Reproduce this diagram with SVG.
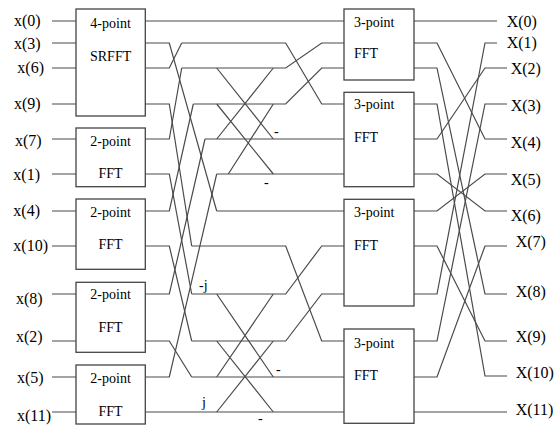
<svg xmlns="http://www.w3.org/2000/svg" width="560" height="426" viewBox="0 0 560 426">
  <style>
    .box { fill: #fff; stroke: #444; stroke-width: 1.3; }
    .wire { fill: none; stroke: #4a4a4a; stroke-width: 1.2; }
    .lbl { font-family: "Liberation Serif", Tinos, "DejaVu Serif", "Noto Serif", serif; font-size: 16px; fill: #000; }
    .btxt { font-family: "Liberation Serif", Tinos, "DejaVu Serif", "Noto Serif", serif; font-size: 14px; fill: #000; }
    .mid { text-anchor: middle; }
    .sgn { font-family: "Liberation Serif", Tinos, "DejaVu Serif", "Noto Serif", serif; font-size: 14px; fill: #000; }
  </style>
  <rect width="560" height="426" fill="#fff"/>

  <!-- connectors -->
  <g id="connectors" class="wire">
    <!-- inputs -->
    <path d="M52,21H76M52,43H76M52,68H76M52,104H76M52,139H76M52,174H76M52,211H76M52,246H76M52,294H76M52,341H76M52,377H76M52,412H76"/>
    <!-- straight-through rows -->
    <path d="M145,21H344M145,412H344"/>
    <!-- first permutation stage -->
    <path d="M145,43H169.3L216.7,211"/>
    <path d="M145,68H169.3L181.7,43"/>
    <path d="M145,104H169.3L191.7,246"/>
    <path d="M145,139H169.3L181.7,68"/>
    <path d="M145,174H169.3L191.7,294"/>
    <path d="M145,211H169.3L193.3,104"/>
    <path d="M145,246H169.3L191.7,341"/>
    <path d="M145,294H169.3L205,139"/>
    <path d="M145,341H169.3L191.7,377"/>
    <path d="M145,377H169.3L216.7,174"/>
    <!-- middle rails and reordering into the 3-point FFTs -->
    <path d="M181.7,43H285.7L321.7,104H344"/>
    <path d="M181.7,68H285.7L321.7,43H344"/>
    <path d="M193.3,104H285.7L321.7,68H344"/>
    <path d="M205,139H344"/>
    <path d="M216.7,174H344"/>
    <path d="M216.7,211H344"/>
    <path d="M191.7,246H285.7L321.7,341H344"/>
    <path d="M191.7,294H285.7L321.7,246H344"/>
    <path d="M191.7,341H285.7L321.7,294H344"/>
    <path d="M191.7,377H344"/>
    <!-- butterflies -->
    <path d="M216.7,68L273.3,139M216.7,139L273.3,68M216.7,104L273.3,174M228.3,174L273.3,104"/>
    <path d="M216.7,294L273.3,377M216.7,377L273.3,294M216.7,341L273.3,412M216.7,412L273.3,341"/>
    <!-- outputs -->
    <path d="M414,21H497"/>
    <path d="M414,43H437L485,139H507"/>
    <path d="M414,68H437L485,294H507"/>
    <path d="M414,104H437L485,376H507"/>
    <path d="M414,139H437L485,68H507"/>
    <path d="M414,174H437L485,211H507"/>
    <path d="M414,211H437L485,174H507"/>
    <path d="M414,246H437L485,341H507"/>
    <path d="M414,294H437L485,43H497"/>
    <path d="M414,341H437L485,104H507"/>
    <path d="M414,377H437L485,246H507"/>
    <path d="M414,412H507"/>
  </g>

  <!-- twiddle and sign marks -->
  <g id="marks" class="sgn">
    <text x="274" y="136">-</text>
    <text x="264" y="187">-</text>
    <text x="199" y="290">-j</text>
    <text x="276" y="374">-</text>
    <text x="258" y="423">-</text>
    <text x="202" y="407">j</text>
  </g>

  <!-- input stage -->
  <g id="srfft4">
    <rect class="box" x="76" y="9" width="69.3" height="107"/>
    <text class="btxt mid" x="110.6" y="28">4-point</text>
    <text class="btxt mid" x="110.6" y="60.5">SRFFT</text>
  </g>
  <g id="fft2a">
    <rect class="box" x="76" y="128" width="69.3" height="58.7"/>
    <text class="btxt mid" x="110.6" y="146">2-point</text>
    <text class="btxt mid" x="110.6" y="178">FFT</text>
  </g>
  <g id="fft2b">
    <rect class="box" x="76" y="199" width="69.3" height="70.3"/>
    <text class="btxt mid" x="110.6" y="216.5">2-point</text>
    <text class="btxt mid" x="110.6" y="249">FFT</text>
  </g>
  <g id="fft2c">
    <rect class="box" x="76" y="282.3" width="69.3" height="70"/>
    <text class="btxt mid" x="110.6" y="299">2-point</text>
    <text class="btxt mid" x="110.6" y="332">FFT</text>
  </g>
  <g id="fft2d">
    <rect class="box" x="76" y="365" width="69.3" height="59"/>
    <text class="btxt mid" x="110.6" y="382.5">2-point</text>
    <text class="btxt mid" x="110.6" y="415.5">FFT</text>
  </g>

  <!-- output stage -->
  <g id="fft3a">
    <rect class="box" x="344" y="9" width="70" height="71"/>
    <text class="btxt" x="354" y="27">3-point</text>
    <text class="btxt" x="354" y="58">FFT</text>
  </g>
  <g id="fft3b">
    <rect class="box" x="344" y="92.3" width="70" height="94.4"/>
    <text class="btxt" x="354" y="109">3-point</text>
    <text class="btxt" x="354" y="141.5">FFT</text>
  </g>
  <g id="fft3c">
    <rect class="box" x="344" y="199.3" width="70" height="106.7"/>
    <text class="btxt" x="354" y="216.5">3-point</text>
    <text class="btxt" x="354" y="250">FFT</text>
  </g>
  <g id="fft3d">
    <rect class="box" x="344" y="329" width="70" height="94.3"/>
    <text class="btxt" x="354" y="347.5">3-point</text>
    <text class="btxt" x="354" y="380">FFT</text>
  </g>

  <!-- input labels -->
  <g id="inputs" class="lbl">
    <text x="14" y="25.5">x(0)</text>
    <text x="14" y="49">x(3)</text>
    <text x="17.3" y="73">x(6)</text>
    <text x="14" y="108.5">x(9)</text>
    <text x="15" y="146">x(7)</text>
    <text x="13.3" y="179.5">x(1)</text>
    <text x="13.3" y="216">x(4)</text>
    <text x="13.3" y="251">x(10)</text>
    <text x="16" y="303.5">x(8)</text>
    <text x="16" y="341.5">x(2)</text>
    <text x="17" y="382.5">x(5)</text>
    <text x="17" y="420.5">x(11)</text>
  </g>

  <!-- output labels -->
  <g id="outputs" class="lbl">
    <text x="506.7" y="27">X(0)</text>
    <text x="506.7" y="48">X(1)</text>
    <text x="510.7" y="74">X(2)</text>
    <text x="510.7" y="111">X(3)</text>
    <text x="510.7" y="148">X(4)</text>
    <text x="510.7" y="184.5">X(5)</text>
    <text x="510.7" y="221">X(6)</text>
    <text x="515.7" y="247">X(7)</text>
    <text x="515.7" y="297">X(8)</text>
    <text x="515.7" y="341.5">X(9)</text>
    <text x="515.7" y="378">X(10)</text>
    <text x="515.7" y="415">X(11)</text>
  </g>
</svg>
